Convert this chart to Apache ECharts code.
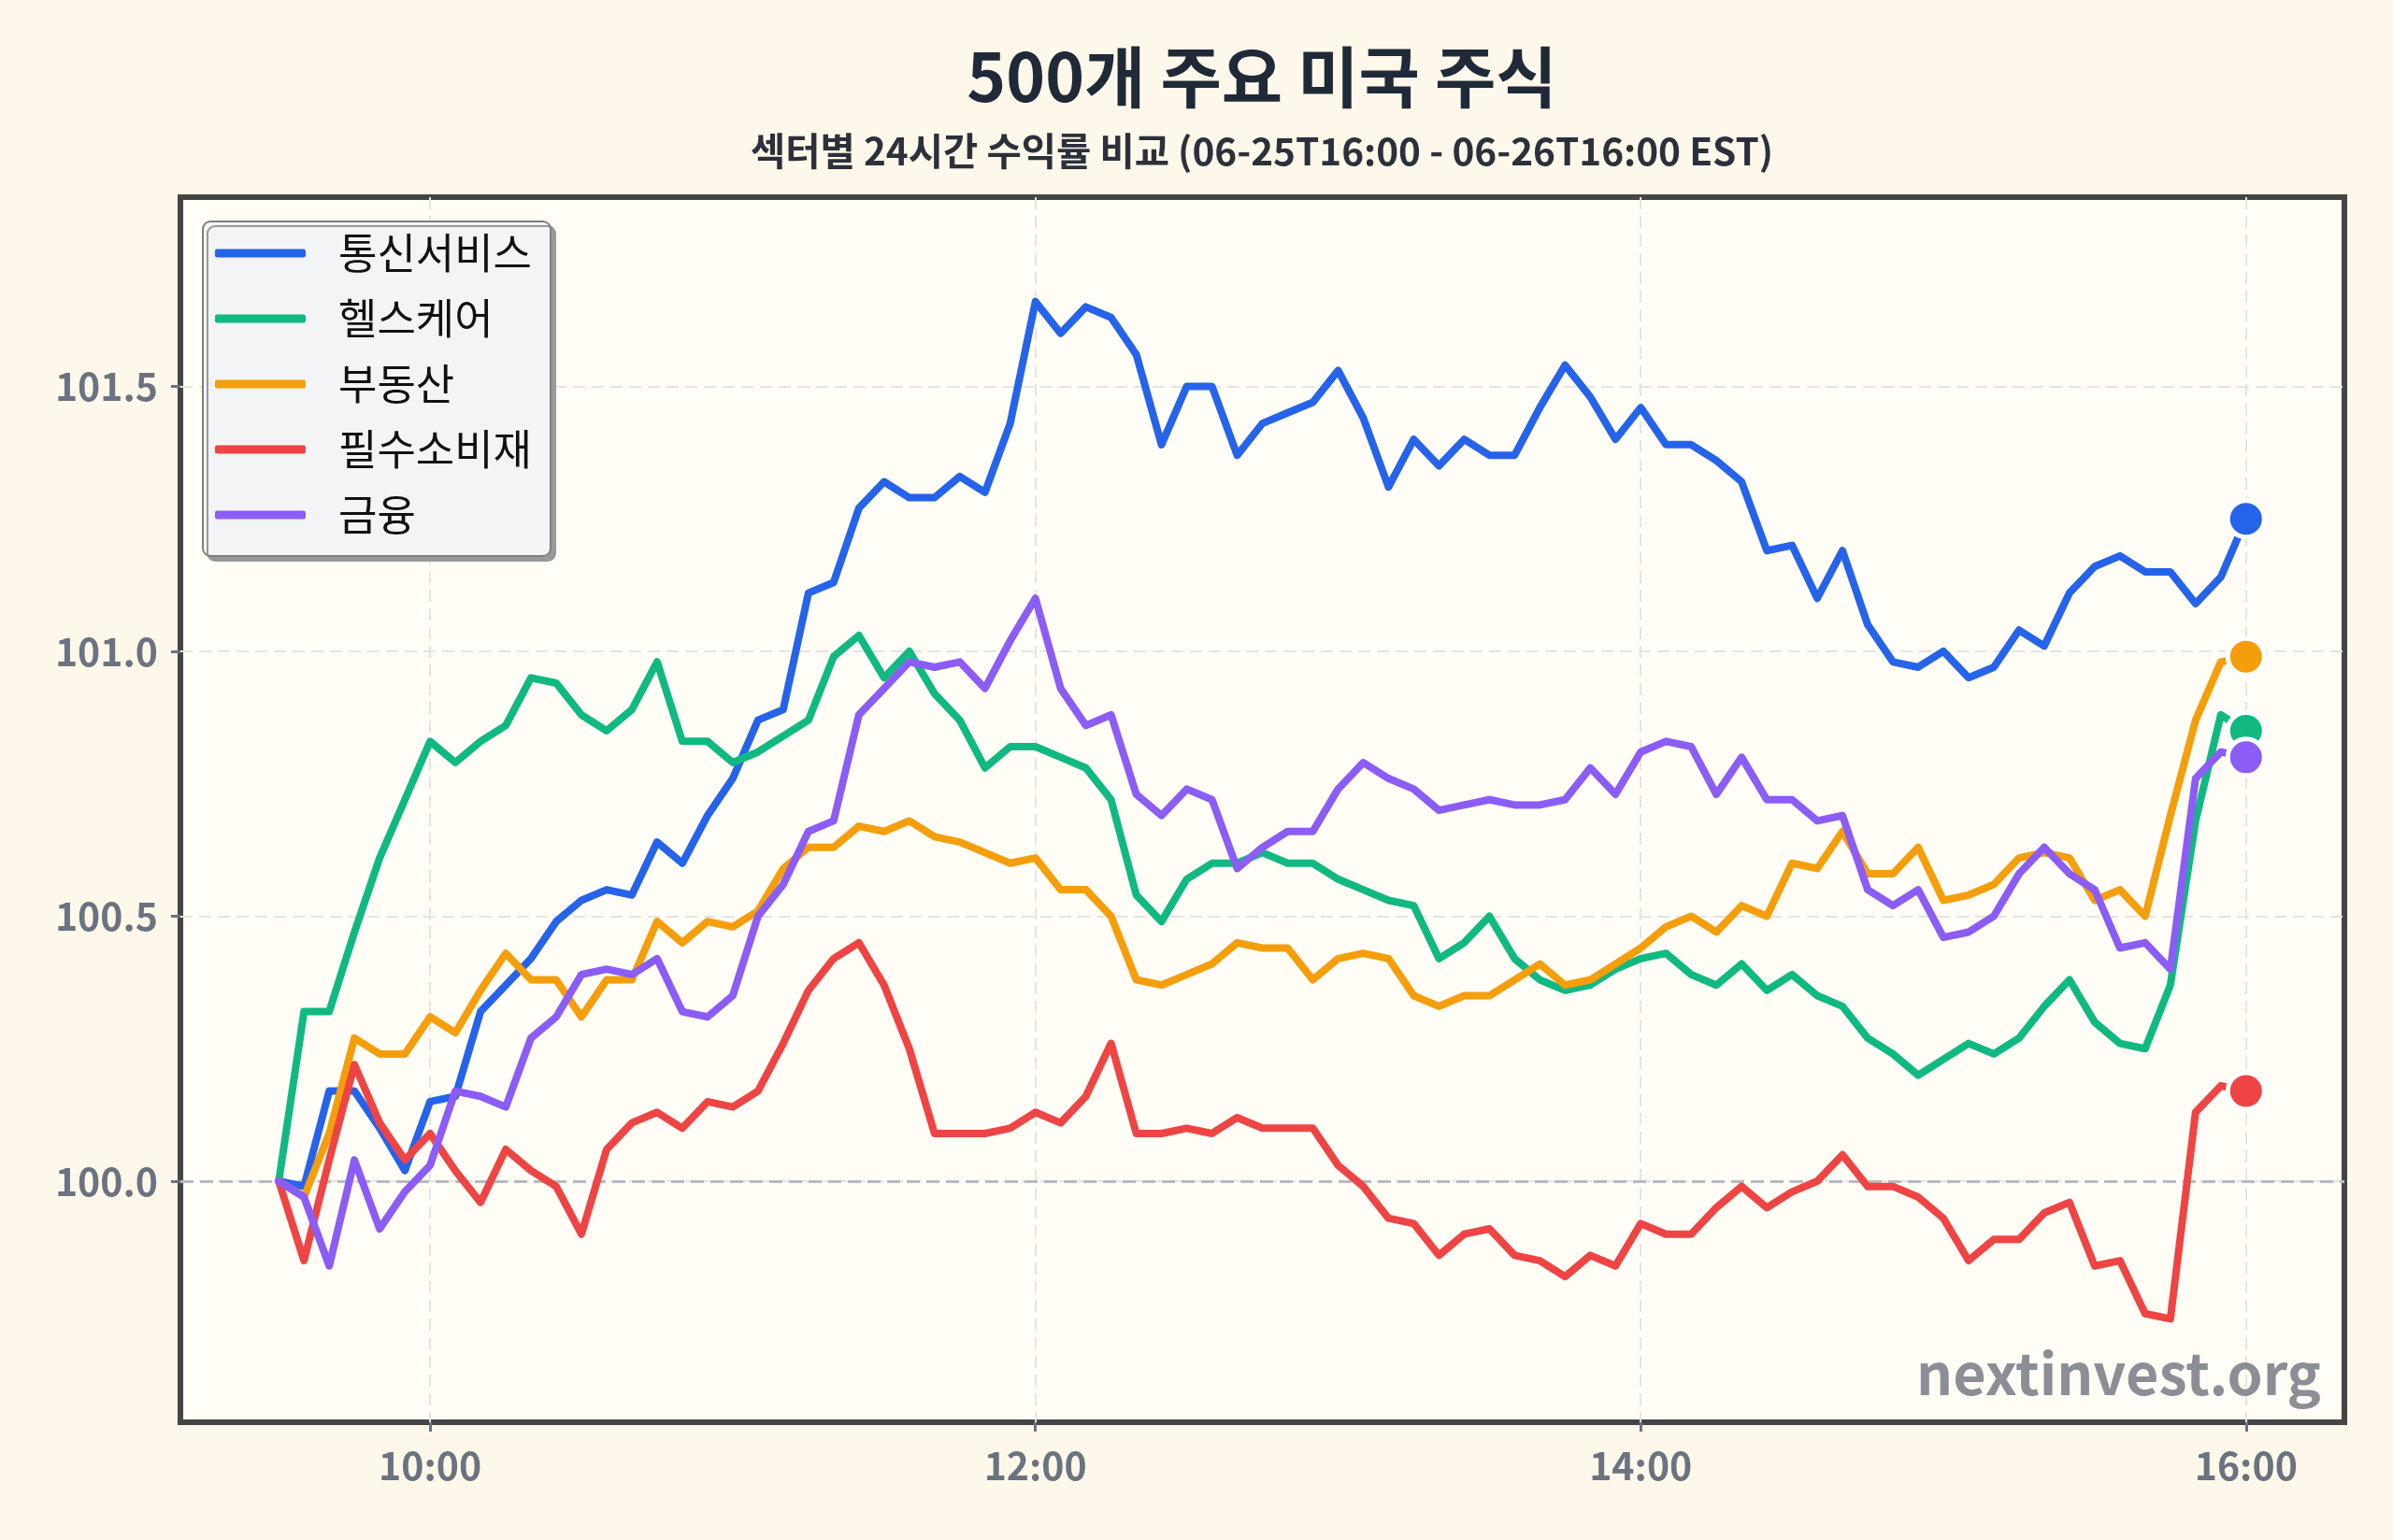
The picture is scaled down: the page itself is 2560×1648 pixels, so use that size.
<!DOCTYPE html>
<html>
<head>
<meta charset="utf-8">
<script src="https://cdn.jsdelivr.net/npm/echarts@6/dist/echarts.min.js"></script>
<style>
  html, body { margin: 0; padding: 0; background: #fdf8e9; }
  #chart { width: 2560px; height: 1648px; }
</style>
</head>
<body>
<div id="chart"></div>
<script>
// 5분 간격 시각
const times = [
  '09:30','09:35','09:40','09:45','09:50','09:55',
  '10:00','10:05','10:10','10:15','10:20','10:25','10:30','10:35','10:40','10:45','10:50','10:55',
  '11:00','11:05','11:10','11:15','11:20','11:25','11:30','11:35','11:40','11:45','11:50','11:55',
  '12:00','12:05','12:10','12:15','12:20','12:25','12:30','12:35','12:40','12:45','12:50','12:55',
  '13:00','13:05','13:10','13:15','13:20','13:25','13:30','13:35','13:40','13:45','13:50','13:55',
  '14:00','14:05','14:10','14:15','14:20','14:25','14:30','14:35','14:40','14:45','14:50','14:55',
  '15:00','15:05','15:10','15:15','15:20','15:25','15:30','15:35','15:40','15:45','15:50','15:55',
  '16:00'
];

const sectorNames = ['통신서비스', '헬스케어', '부동산', '필수소비재', '금융'];

// 섹터별 지수 (시작 = 100)
const telecom = [
  100.00, 99.99, 100.17, 100.17, 100.10, 100.02, 100.15, 100.16, 100.32, 100.37, 100.42, 100.49,
  100.53, 100.55, 100.54, 100.64, 100.60, 100.69, 100.76, 100.87, 100.89, 101.11, 101.13, 101.27,
  101.32, 101.29, 101.29, 101.33, 101.30, 101.43, 101.66, 101.60, 101.65, 101.63, 101.56, 101.39,
  101.50, 101.50, 101.37, 101.43, 101.45, 101.47, 101.53, 101.44, 101.31, 101.40, 101.35, 101.40,
  101.37, 101.37, 101.46, 101.54, 101.48, 101.40, 101.46, 101.39, 101.39, 101.36, 101.32, 101.19,
  101.20, 101.10, 101.19, 101.05, 100.98, 100.97, 101.00, 100.95, 100.97, 101.04, 101.01, 101.11,
  101.16, 101.18, 101.15, 101.15, 101.09, 101.14, 101.25
];
const health = [
  100.00, 100.32, 100.32, 100.47, 100.61, 100.72, 100.83, 100.79, 100.83, 100.86, 100.95, 100.94,
  100.88, 100.85, 100.89, 100.98, 100.83, 100.83, 100.79, 100.81, 100.84, 100.87, 100.99, 101.03,
  100.95, 101.00, 100.92, 100.87, 100.78, 100.82, 100.82, 100.80, 100.78, 100.72, 100.54, 100.49,
  100.57, 100.60, 100.60, 100.62, 100.60, 100.60, 100.57, 100.55, 100.53, 100.52, 100.42, 100.45,
  100.50, 100.42, 100.38, 100.36, 100.37, 100.40, 100.42, 100.43, 100.39, 100.37, 100.41, 100.36,
  100.39, 100.35, 100.33, 100.27, 100.24, 100.20, 100.23, 100.26, 100.24, 100.27, 100.33, 100.38,
  100.30, 100.26, 100.25, 100.37, 100.68, 100.88, 100.85
];
const realty = [
  100.00, 99.97, 100.09, 100.27, 100.24, 100.24, 100.31, 100.28, 100.36, 100.43, 100.38, 100.38,
  100.31, 100.38, 100.38, 100.49, 100.45, 100.49, 100.48, 100.51, 100.59, 100.63, 100.63, 100.67,
  100.66, 100.68, 100.65, 100.64, 100.62, 100.60, 100.61, 100.55, 100.55, 100.50, 100.38, 100.37,
  100.39, 100.41, 100.45, 100.44, 100.44, 100.38, 100.42, 100.43, 100.42, 100.35, 100.33, 100.35,
  100.35, 100.38, 100.41, 100.37, 100.38, 100.41, 100.44, 100.48, 100.50, 100.47, 100.52, 100.50,
  100.60, 100.59, 100.66, 100.58, 100.58, 100.63, 100.53, 100.54, 100.56, 100.61, 100.62, 100.61,
  100.53, 100.55, 100.50, 100.69, 100.87, 100.98, 100.99
];
const staples = [
  100.00, 99.85, 100.04, 100.22, 100.11, 100.04, 100.09, 100.02, 99.96, 100.06, 100.02, 99.99,
  99.90, 100.06, 100.11, 100.13, 100.10, 100.15, 100.14, 100.17, 100.26, 100.36, 100.42, 100.45,
  100.37, 100.25, 100.09, 100.09, 100.09, 100.10, 100.13, 100.11, 100.16, 100.26, 100.09, 100.09,
  100.10, 100.09, 100.12, 100.10, 100.10, 100.10, 100.03, 99.99, 99.93, 99.92, 99.86, 99.90,
  99.91, 99.86, 99.85, 99.82, 99.86, 99.84, 99.92, 99.90, 99.90, 99.95, 99.99, 99.95,
  99.98, 100.00, 100.05, 99.99, 99.99, 99.97, 99.93, 99.85, 99.89, 99.89, 99.94, 99.96,
  99.84, 99.85, 99.75, 99.74, 100.13, 100.18, 100.17
];
const finance = [
  100.00, 99.97, 99.84, 100.04, 99.91, 99.98, 100.03, 100.17, 100.16, 100.14, 100.27, 100.31,
  100.39, 100.40, 100.39, 100.42, 100.32, 100.31, 100.35, 100.50, 100.56, 100.66, 100.68, 100.88,
  100.93, 100.98, 100.97, 100.98, 100.93, 101.02, 101.10, 100.93, 100.86, 100.88, 100.73, 100.69,
  100.74, 100.72, 100.59, 100.63, 100.66, 100.66, 100.74, 100.79, 100.76, 100.74, 100.70, 100.71,
  100.72, 100.71, 100.71, 100.72, 100.78, 100.73, 100.81, 100.83, 100.82, 100.73, 100.80, 100.72,
  100.72, 100.68, 100.69, 100.55, 100.52, 100.55, 100.46, 100.47, 100.50, 100.58, 100.63, 100.58,
  100.55, 100.44, 100.45, 100.40, 100.76, 100.81, 100.80
];

const xTicks = ['10:00', '12:00', '14:00', '16:00'];
const yTicks = [100.0, 100.5, 101.0, 101.5];
const colors = ['#2563eb', '#10b981', '#f59e0b', '#ef4444', '#8b5cf6'];

const FONT = '"Noto Sans CJK KR", "Noto Sans", sans-serif';

// 'HH:MM' -> 분
const toMin = function (t) {
  const p = t.split(':');
  return Number(p[0]) * 60 + Number(p[1]);
};
const fmtMin = function (m) {
  const h = Math.floor(m / 60), mm = Math.round(m % 60);
  return String(h).padStart(2, '0') + ':' + String(mm).padStart(2, '0');
};

const makeChart = function () {
  let myChart = echarts.init(document.getElementById('chart'), null, { renderer: 'canvas' });

  const allValues = [telecom, health, realty, staples, finance];
  const last = times.length - 1;

  let series = allValues.map(function (vals, k) {
    let data = times.map(function (t, i) {
      if (i === last) {
        // 마지막 값에 큰 점
        return {
          value: [toMin(t), vals[i]],
          symbol: 'circle',
          symbolSize: 39,
          itemStyle: { color: colors[k], borderColor: '#ffffff', borderWidth: 5 }
        };
      }
      return [toMin(t), vals[i]];
    });
    let s = {
      name: sectorNames[k],
      type: 'line',
      data: data,
      symbol: 'none',
      showSymbol: true,
      color: colors[k],
      lineStyle: { width: 8, color: colors[k], cap: 'round', join: 'round' },
      itemStyle: { color: colors[k] },
      emphasis: { disabled: true },
      z: 3 + k
    };
    if (k === 0) {
      // 100 기준선
      s.markLine = {
        silent: true,
        symbol: 'none',
        label: { show: false },
        lineStyle: { color: '#b6bac2', type: [14, 7], width: 3 },
        data: [{ yAxis: 100 }],
        z: 1
      };
    }
    return s;
  });

  let option = {
    backgroundColor: '#fdf8e9',
    animation: false,
    title: [
      {
        text: '500개 주요 미국 주식',
        left: 1350,
        top: 47,
        textAlign: 'center',
        padding: 0,
        textStyle: { fontFamily: FONT, fontSize: 71, fontWeight: 'bold', color: '#1f2937' }
      },
      {
        text: '섹터별 24시간 수익률 비교 (06-25T16:00 - 06-26T16:00 EST)',
        left: 1350,
        top: 141,
        textAlign: 'center',
        padding: 0,
        textStyle: { fontFamily: FONT, fontSize: 40.5, fontWeight: 'bold', color: '#2b303b' }
      }
    ],
    legend: {
      orient: 'vertical',
      left: 217,
      top: 237,
      padding: [11, 20, 21, 13],
      itemGap: 24,
      itemWidth: 97,
      itemHeight: 9,
      icon: 'roundRect',
      backgroundColor: '#f3f4f6',
      borderColor: '#7f7f7f',
      borderWidth: 2,
      borderRadius: 8,
      shadowColor: '#999999',
      shadowOffsetX: 5,
      shadowOffsetY: 5,
      shadowBlur: 0,
      data: sectorNames,
      textStyle: {
        fontFamily: FONT,
        fontSize: 45,
        lineHeight: 46,
        color: '#111111',
        padding: [0, 0, 0, 30]
      }
    },
    grid: {
      left: 193,
      right: 52,
      top: 211,
      bottom: 126,
      show: true,
      backgroundColor: '#fffdf6',
      borderColor: '#454545',
      borderWidth: 6,
      z: 0
    },
    xAxis: {
      type: 'value',
      min: 550.5,
      max: 979.5,
      axisLine: { show: false },
      axisTick: {
        show: true,
        length: 10,
        lineStyle: { color: '#6b7280', width: 3 },
        customValues: xTicks.map(toMin)
      },
      axisLabel: {
        customValues: xTicks.map(toMin),
        formatter: function (v) { return fmtMin(v); },
        margin: 26,
        fontFamily: FONT,
        fontSize: 41,
        fontWeight: 'bold',
        color: '#6b7280'
      },
      splitLine: {
        show: true,
        lineStyle: { color: '#e4e4e4', type: [13, 7], width: 2 }
      }
    },
    yAxis: {
      type: 'value',
      min: 99.545,
      max: 101.857,
      axisLine: { show: false },
      axisTick: {
        show: true,
        length: 10,
        lineStyle: { color: '#6b7280', width: 3 },
        customValues: yTicks
      },
      axisLabel: {
        customValues: yTicks,
        formatter: function (v) { return v.toFixed(1); },
        margin: 24,
        fontFamily: FONT,
        fontSize: 41,
        fontWeight: 'bold',
        color: '#6b7280'
      },
      splitLine: {
        show: true,
        lineStyle: { color: '#e4e4e4', type: [13, 7], width: 2 }
      }
    },
    graphic: [
      {
        type: 'text',
        x: 2483,
        y: 1470,
        z: 100,
        silent: true,
        style: {
          text: 'nextinvest.org',
          font: 'bold 61px ' + FONT,
          fill: 'rgba(100,106,116,0.75)',
          align: 'right',
          verticalAlign: 'middle'
        }
      }
    ],
    series: series
  };

  myChart.setOption(option);
};

makeChart();
</script>
</body>
</html>
